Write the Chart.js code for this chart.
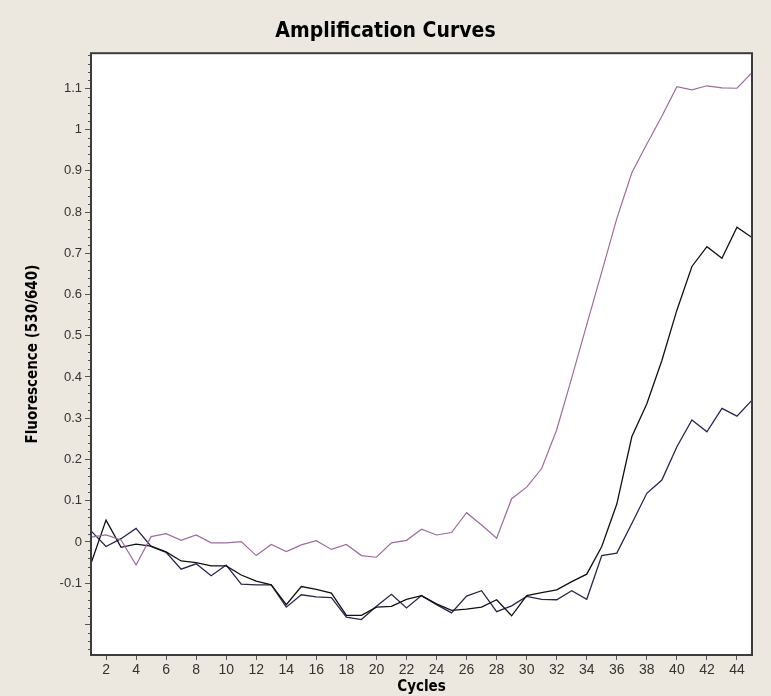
<!DOCTYPE html>
<html>
<head>
<meta charset="utf-8">
<script src="https://cdn.jsdelivr.net/npm/chart.js@4.4.1/dist/chart.umd.min.js"></script>
<style>
  html, body { margin: 0; padding: 0; background: #ede8df; }
  #wrap { width: 771px; height: 696px; }
</style>
</head>
<body>
<div id="wrap"><canvas id="chart" width="771" height="696"></canvas></div>
<script>
// PCR cycle numbers
const cycles = [1, 2, 3, 4, 5, 6, 7, 8, 9, 10, 11, 12, 13, 14, 15, 16, 17, 18, 19, 20,
                21, 22, 23, 24, 25, 26, 27, 28, 29, 30, 31, 32, 33, 34, 35, 36, 37, 38, 39, 40,
                41, 42, 43, 44, 45];

// Fluorescence (530/640) per cycle for each sample
const sampleEarly = [0.012, 0.017, 0.005, -0.056, 0.013, 0.020, 0.004, 0.017, -0.002, -0.002,
                     0.001, -0.033, -0.006, -0.023, -0.007, 0.003, -0.018, -0.006, -0.033, -0.037,
                     -0.002, 0.004, 0.031, 0.017, 0.023, 0.071, 0.041, 0.009, 0.105, 0.133,
                     0.178, 0.272, 0.398, 0.527, 0.655, 0.784, 0.895, 0.965, 1.032, 1.104,
                     1.096, 1.106, 1.101, 1.100, 1.138];

const sampleMid = [-0.052, 0.053, -0.013, -0.005, -0.010, -0.024, -0.046, -0.050, -0.058, -0.058,
                   -0.080, -0.095, -0.104, -0.152, -0.108, -0.115, -0.124, -0.178, -0.178, -0.158,
                   -0.156, -0.139, -0.130, -0.150, -0.166, -0.163, -0.158, -0.140, -0.179, -0.130,
                   -0.123, -0.116, -0.096, -0.078, -0.011, 0.092, 0.255, 0.335, 0.440, 0.562,
                   0.668, 0.716, 0.688, 0.763, 0.738];

const sampleLate = [0.027, -0.011, 0.008, 0.033, -0.011, -0.025, -0.066, -0.053, -0.082, -0.056,
                    -0.102, -0.104, -0.104, -0.158, -0.128, -0.133, -0.135, -0.182, -0.188, -0.156,
                    -0.127, -0.160, -0.130, -0.152, -0.172, -0.131, -0.118, -0.169, -0.155, -0.132,
                    -0.139, -0.140, -0.118, -0.139, -0.033, -0.027, 0.045, 0.118, 0.150, 0.231,
                    0.296, 0.267, 0.324, 0.305, 0.344];

// Axis ticks
const xTicks = [2, 4, 6, 8, 10, 12, 14, 16, 18, 20, 22, 24, 26, 28, 30, 32, 34, 36, 38, 40, 42, 44];
const yTicks = [-0.2, -0.1, 0, 0.1, 0.2, 0.3, 0.4, 0.5, 0.6, 0.7, 0.8, 0.9, 1, 1.1];
const yTickLabels = ['', '-0.1', '0', '0.1', '0.2', '0.3', '0.4', '0.5', '0.6', '0.7', '0.8', '0.9', '1', '1.1'];

const toPoints = (arr) => arr.map((v, i) => ({ x: cycles[i], y: v }));

// Beige panel, white plot area, dark frame and small minor ticks on the value axis
const framePlugin = {
  id: 'frame',
  beforeDraw(chart) {
    const { ctx, chartArea: a } = chart;
    ctx.save();
    ctx.fillStyle = '#ede8df';
    ctx.fillRect(0, 0, chart.width, chart.height);
    ctx.fillStyle = '#ffffff';
    ctx.fillRect(a.left, a.top, a.right - a.left, a.bottom - a.top);
    ctx.restore();
  },
  afterDraw(chart) {
    const { ctx, chartArea: a } = chart;
    const y = chart.scales.y;
    ctx.save();
    ctx.strokeStyle = '#555555';
    ctx.lineWidth = 1;
    for (let k = -13; k <= 59; k++) {
      if (k % 5 === 0) continue;
      const py = Math.round(y.getPixelForValue(k * 0.02)) + 0.5;
      if (py < a.top || py > a.bottom) continue;
      ctx.beginPath();
      ctx.moveTo(a.left - 3, py);
      ctx.lineTo(a.left, py);
      ctx.stroke();
    }
    ctx.strokeStyle = '#3c3c3c';
    ctx.lineWidth = 2;
    ctx.strokeRect(a.left, a.top, a.right - a.left, a.bottom - a.top);
    ctx.restore();
  }
};

new Chart(document.getElementById('chart'), {
  type: 'line',
  data: {
    datasets: [
      { data: toPoints(sampleEarly), borderColor: '#9c6c9c', borderWidth: 1.2 },
      { data: toPoints(sampleMid), borderColor: '#111111', borderWidth: 1.3 },
      { data: toPoints(sampleLate), borderColor: '#262650', borderWidth: 1.3 }
    ]
  },
  options: {
    responsive: false,
    devicePixelRatio: 1,
    animation: false,
    elements: { point: { radius: 0 }, line: { tension: 0 } },
    layout: { padding: { left: 19, right: 19, top: 0, bottom: 0 } },
    plugins: {
      legend: { display: false },
      tooltip: { enabled: false },
      title: {
        display: true,
        text: 'Amplification Curves',
        color: '#000000',
        font: { family: "'DejaVu Sans Condensed', 'Liberation Sans', sans-serif", weight: 'bold', size: 21 },
        padding: { top: 19, bottom: 9 }
      }
    },
    scales: {
      x: {
        type: 'linear',
        min: 1,
        max: 45,
        afterBuildTicks: (s) => { s.ticks = xTicks.map(v => ({ value: v })); },
        afterFit: (s) => { s.height = 41; },
        ticks: {
          color: '#333333',
          font: { family: "'Liberation Sans', Arial, sans-serif", size: 14 },
          padding: 2,
          maxRotation: 0,
          autoSkip: false,
          callback: (v) => String(v)
        },
        grid: { drawOnChartArea: false, tickLength: 5, tickColor: '#555555' },
        border: { display: false },
        title: {
          display: true,
          text: 'Cycles',
          color: '#000000',
          font: { family: "'DejaVu Sans Condensed', 'Liberation Sans', sans-serif", weight: 'bold', size: 15 },
          padding: { top: 0, bottom: 0 }
        }
      },
      y: {
        type: 'linear',
        min: -0.274,
        max: 1.185,
        afterBuildTicks: (s) => { s.ticks = yTicks.map(v => ({ value: v })); },
        afterFit: (s) => { s.width = 72; },
        ticks: {
          color: '#333333',
          font: { family: "'Liberation Sans', Arial, sans-serif", size: 13 },
          padding: 3,
          autoSkip: false,
          callback: (v, i) => yTickLabels[i]
        },
        grid: { drawOnChartArea: false, tickLength: 6, tickColor: '#555555' },
        border: { display: false },
        title: {
          display: true,
          text: 'Fluorescence (530/640)',
          color: '#000000',
          font: { family: "'DejaVu Sans Condensed', 'Liberation Sans', sans-serif", weight: 'bold', size: 15 },
          padding: { top: 5, bottom: 0 }
        }
      }
    }
  },
  plugins: [framePlugin]
});
</script>
</body>
</html>
